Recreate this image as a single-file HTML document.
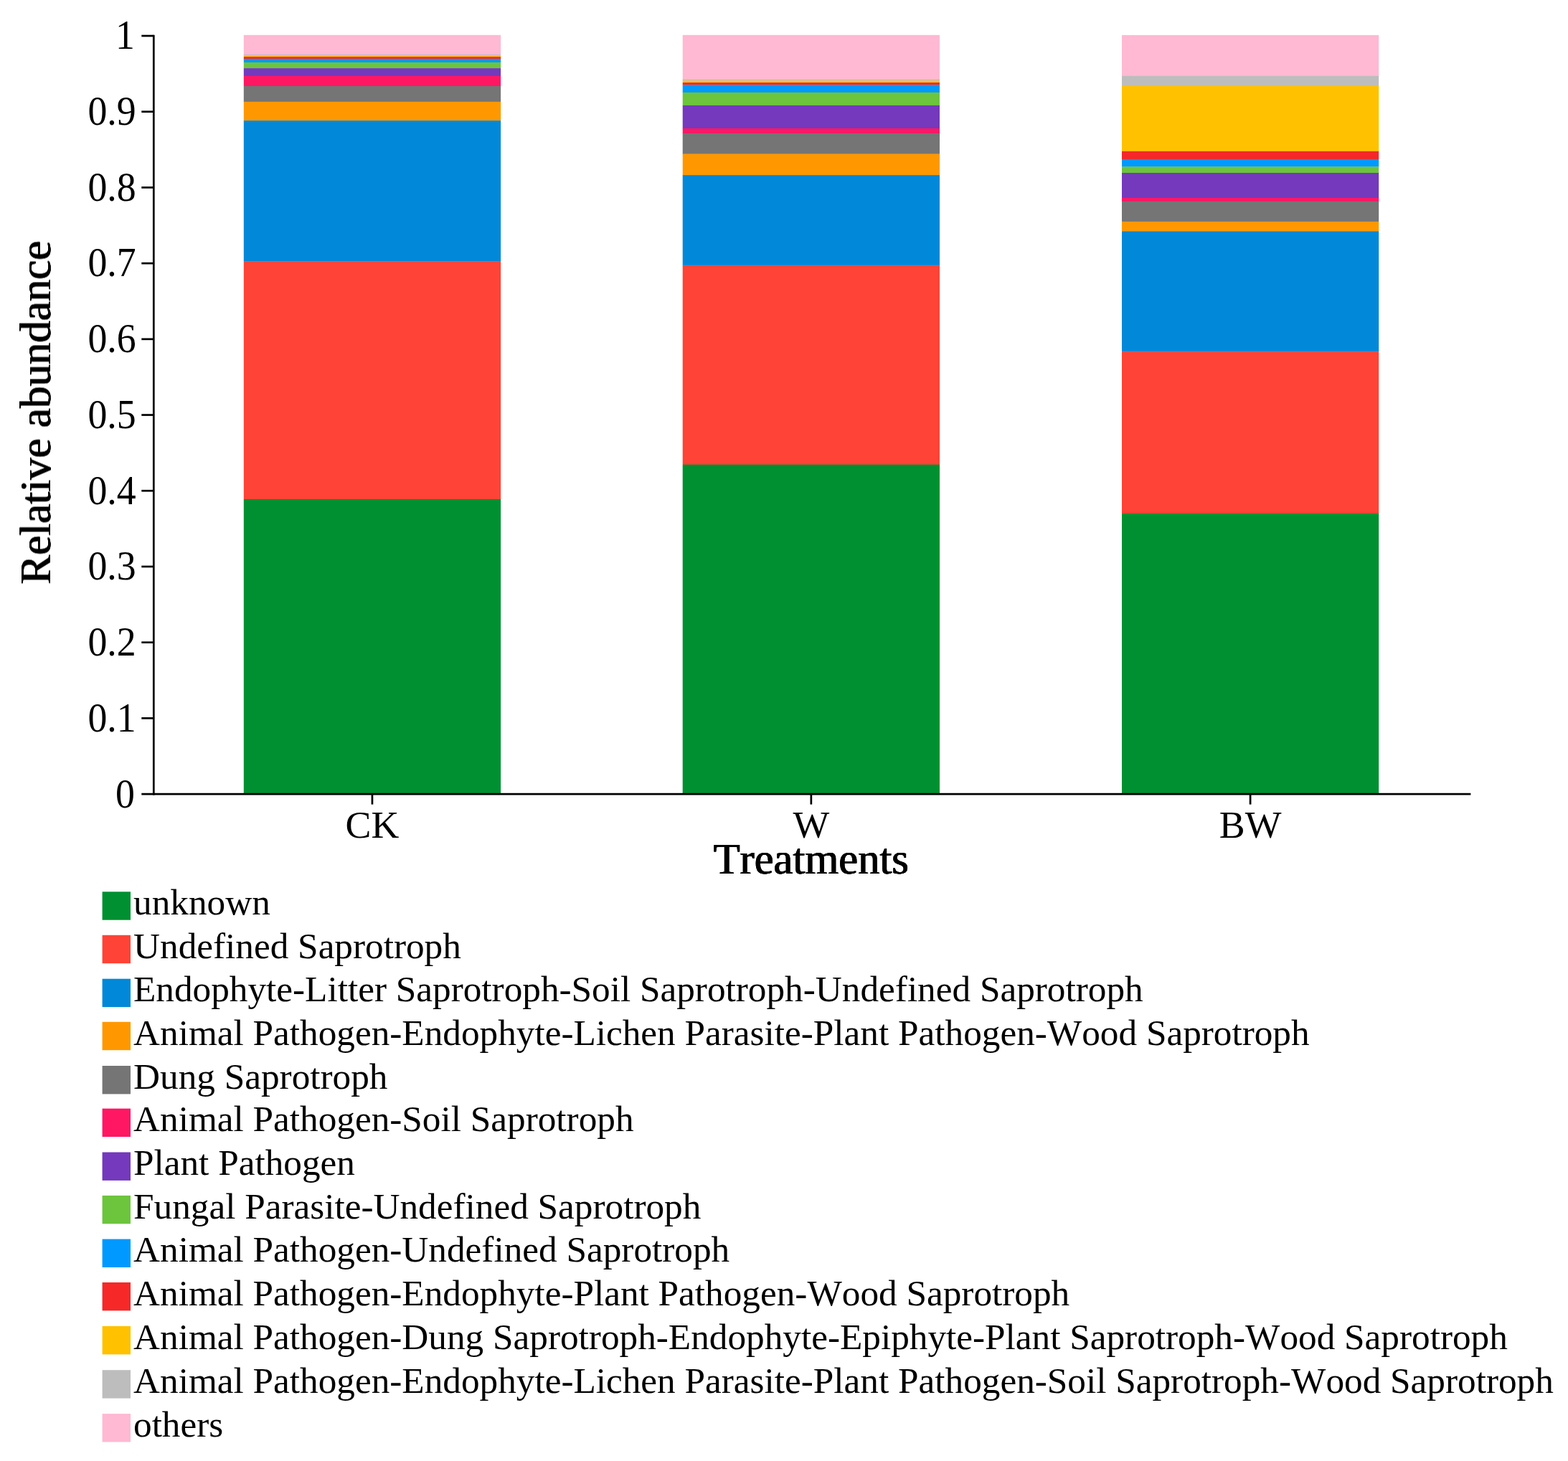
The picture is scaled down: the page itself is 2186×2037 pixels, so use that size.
<!DOCTYPE html>
<html lang="en">
<head>
<meta charset="utf-8">
<title>Relative abundance by treatment</title>
<style>
html,body{margin:0;padding:0;background:#fff;}
body{width:2186px;height:2037px;overflow:hidden;}
svg{display:block;}
text{font-family:"Liberation Serif","DejaVu Serif",serif;fill:#000;font-kerning:none;}
.tick{font-size:53.8px;}
.leg{font-size:51.25px;}
.title{font-size:60.5px;stroke:#000;stroke-width:0px;stroke-linejoin:round;filter:drop-shadow(0.5px 0 0 #000) drop-shadow(-0.5px 0 0 #000);}
.ax{stroke:#000;fill:none;}
</style>
</head>
<body>
<svg width="2186" height="2037" viewBox="0 0 2186 2037" role="img" aria-label="Stacked bar chart of relative abundance by treatment">
<rect x="0" y="0" width="2186" height="2037" fill="#ffffff"/>
<g shape-rendering="auto">
<rect x="339.8" y="48.8" width="358.3" height="27.5" fill="#FFB9D2"/>
<rect x="339.8" y="76" width="358.3" height="1.6" fill="#BDBDBD"/>
<rect x="339.8" y="77.3" width="358.3" height="2.1" fill="#FFC100"/>
<rect x="339.8" y="79.1" width="358.3" height="3.2" fill="#F62828"/>
<rect x="339.8" y="82" width="358.3" height="5.3" fill="#0099FF"/>
<rect x="339.8" y="87" width="358.3" height="8.4" fill="#6CC53C"/>
<rect x="339.8" y="95.1" width="358.3" height="11" fill="#7439BD"/>
<rect x="339.8" y="105.8" width="358.3" height="14.5" fill="#FF1764"/>
<rect x="339.8" y="120" width="358.3" height="22.1" fill="#757575"/>
<rect x="339.8" y="141.8" width="358.3" height="26.6" fill="#FF9800"/>
<rect x="339.8" y="168.1" width="358.3" height="196.3" fill="#0288D8"/>
<rect x="339.8" y="364.1" width="358.3" height="332.1" fill="#FF4336"/>
<rect x="339.8" y="695.9" width="358.3" height="410.3" fill="#009031"/>
<rect x="951.7" y="48.8" width="358.3" height="61.9" fill="#FFB9D2"/>
<rect x="951.7" y="110.4" width="358.3" height="2.4" fill="#BDBDBD"/>
<rect x="951.7" y="112.5" width="358.3" height="2.9" fill="#FFC100"/>
<rect x="951.7" y="115.1" width="358.3" height="3.6" fill="#F62828"/>
<rect x="951.7" y="118.4" width="358.3" height="10.8" fill="#0099FF"/>
<rect x="951.7" y="128.9" width="358.3" height="18.3" fill="#6CC53C"/>
<rect x="951.7" y="146.9" width="358.3" height="32.4" fill="#7439BD"/>
<rect x="951.7" y="179" width="358.3" height="7.2" fill="#FF1764"/>
<rect x="951.7" y="185.9" width="358.3" height="29" fill="#757575"/>
<rect x="951.7" y="214.6" width="358.3" height="29.8" fill="#FF9800"/>
<rect x="951.7" y="244.1" width="358.3" height="126.4" fill="#0288D8"/>
<rect x="951.7" y="370.2" width="358.3" height="277.8" fill="#FF4336"/>
<rect x="951.7" y="647.7" width="358.3" height="458.5" fill="#009031"/>
<rect x="1564" y="48.9" width="358.2" height="57.2" fill="#FFB9D2"/>
<rect x="1564" y="105.8" width="358.2" height="14.2" fill="#BDBDBD"/>
<rect x="1564" y="119.7" width="358.2" height="91.5" fill="#FFC100"/>
<rect x="1564" y="210.9" width="358.2" height="11.3" fill="#F62828"/>
<rect x="1564" y="221.9" width="358.2" height="10.8" fill="#0099FF"/>
<rect x="1564" y="232.4" width="358.2" height="8.9" fill="#6CC53C"/>
<rect x="1564" y="241" width="358.2" height="35.2" fill="#7439BD"/>
<rect x="1564" y="275.9" width="358.2" height="5.3" fill="#FF1764"/>
<rect x="1564" y="280.9" width="358.2" height="28.3" fill="#757575"/>
<rect x="1564" y="308.9" width="358.2" height="13.8" fill="#FF9800"/>
<rect x="1564" y="322.4" width="358.2" height="168.2" fill="#0288D8"/>
<rect x="1564" y="490.3" width="358.2" height="226" fill="#FF4336"/>
<rect x="1564" y="716" width="358.2" height="390.2" fill="#009031"/>
</g>
<g class="ax" stroke-width="2.7">
<path d="M214.3 48.65V1108.45"/>
<path d="M197.3 1107.1H2050.4"/>
<path d="M197.3 1001.39H214.3"/>
<path d="M197.3 895.68H214.3"/>
<path d="M197.3 789.97H214.3"/>
<path d="M197.3 684.26H214.3"/>
<path d="M197.3 578.55H214.3"/>
<path d="M197.3 472.84H214.3"/>
<path d="M197.3 367.13H214.3"/>
<path d="M197.3 261.42H214.3"/>
<path d="M197.3 155.71H214.3"/>
<path d="M197.3 50H214.3"/>
<path d="M518.95 1107.1V1121.6"/>
<path d="M1130.85 1107.1V1121.6"/>
<path d="M1743.1 1107.1V1121.6"/>
</g>
<g class="tick" text-anchor="end">
<text transform="translate(187.9 1126.1) scale(1 1.06)">0</text>
<text transform="translate(189.7 1019.69) scale(1 1.06)">0.1</text>
<text transform="translate(189.7 913.98) scale(1 1.06)">0.2</text>
<text transform="translate(189.7 808.27) scale(1 1.06)">0.3</text>
<text transform="translate(189.7 702.56) scale(1 1.06)">0.4</text>
<text transform="translate(189.7 596.85) scale(1 1.06)">0.5</text>
<text transform="translate(189.7 491.14) scale(1 1.06)">0.6</text>
<text transform="translate(189.7 385.43) scale(1 1.06)">0.7</text>
<text transform="translate(189.7 279.72) scale(1 1.06)">0.8</text>
<text transform="translate(189.7 174.01) scale(1 1.06)">0.9</text>
<text transform="translate(187.9 68.3) scale(1 1.06)">1</text>
</g>
<g class="tick" text-anchor="middle">
<text x="518.95" y="1167.8">CK</text>
<text x="1130.85" y="1167.8">W</text>
<text x="1743.1" y="1167.8">BW</text>
</g>
<text class="title" text-anchor="middle" x="1131.2" y="1217.7">Treatments</text>
<text class="title" style="font-size:60.95px" text-anchor="middle" transform="translate(70 574.5) rotate(-90)">Relative abundance</text>
<g class="leg">
<rect x="142.6" y="1243.3" width="39.4" height="39.4" fill="#009031"/>
<text x="186" y="1275">unknown</text>
<rect x="142.6" y="1303.8" width="39.4" height="39.4" fill="#FF4336"/>
<text x="186" y="1335.5">Undefined Saprotroph</text>
<rect x="142.6" y="1364.7" width="39.4" height="39.4" fill="#0288D8"/>
<text x="186" y="1396.4">Endophyte-Litter Saprotroph-Soil Saprotroph-Undefined Saprotroph</text>
<rect x="142.6" y="1424.8" width="39.4" height="39.4" fill="#FF9800"/>
<text x="186" y="1456.5">Animal Pathogen-Endophyte-Lichen Parasite-Plant Pathogen-Wood Saprotroph</text>
<rect x="142.6" y="1486" width="39.4" height="39.4" fill="#757575"/>
<text x="186" y="1517.7">Dung Saprotroph</text>
<rect x="142.6" y="1545.6" width="39.4" height="39.4" fill="#FF1764"/>
<text x="186" y="1577.3">Animal Pathogen-Soil Saprotroph</text>
<rect x="142.6" y="1606.5" width="39.4" height="39.4" fill="#7439BD"/>
<text x="186" y="1638.2">Plant Pathogen</text>
<rect x="142.6" y="1666.9" width="39.4" height="39.4" fill="#6CC53C"/>
<text x="186" y="1698.6">Fungal Parasite-Undefined Saprotroph</text>
<rect x="142.6" y="1727.6" width="39.4" height="39.4" fill="#0099FF"/>
<text x="186" y="1759.3">Animal Pathogen-Undefined Saprotroph</text>
<rect x="142.6" y="1788" width="39.4" height="39.4" fill="#F62828"/>
<text x="186" y="1819.7">Animal Pathogen-Endophyte-Plant Pathogen-Wood Saprotroph</text>
<rect x="142.6" y="1849" width="39.4" height="39.4" fill="#FFC100"/>
<text x="186" y="1880.7">Animal Pathogen-Dung Saprotroph-Endophyte-Epiphyte-Plant Saprotroph-Wood Saprotroph</text>
<rect x="142.6" y="1910.2" width="39.4" height="39.4" fill="#BDBDBD"/>
<text x="186" y="1941.9">Animal Pathogen-Endophyte-Lichen Parasite-Plant Pathogen-Soil Saprotroph-Wood Saprotroph</text>
<rect x="142.6" y="1971.1" width="39.4" height="39.4" fill="#FFB9D2"/>
<text x="186" y="2002.8">others</text>
</g>
</svg>
</body>
</html>
